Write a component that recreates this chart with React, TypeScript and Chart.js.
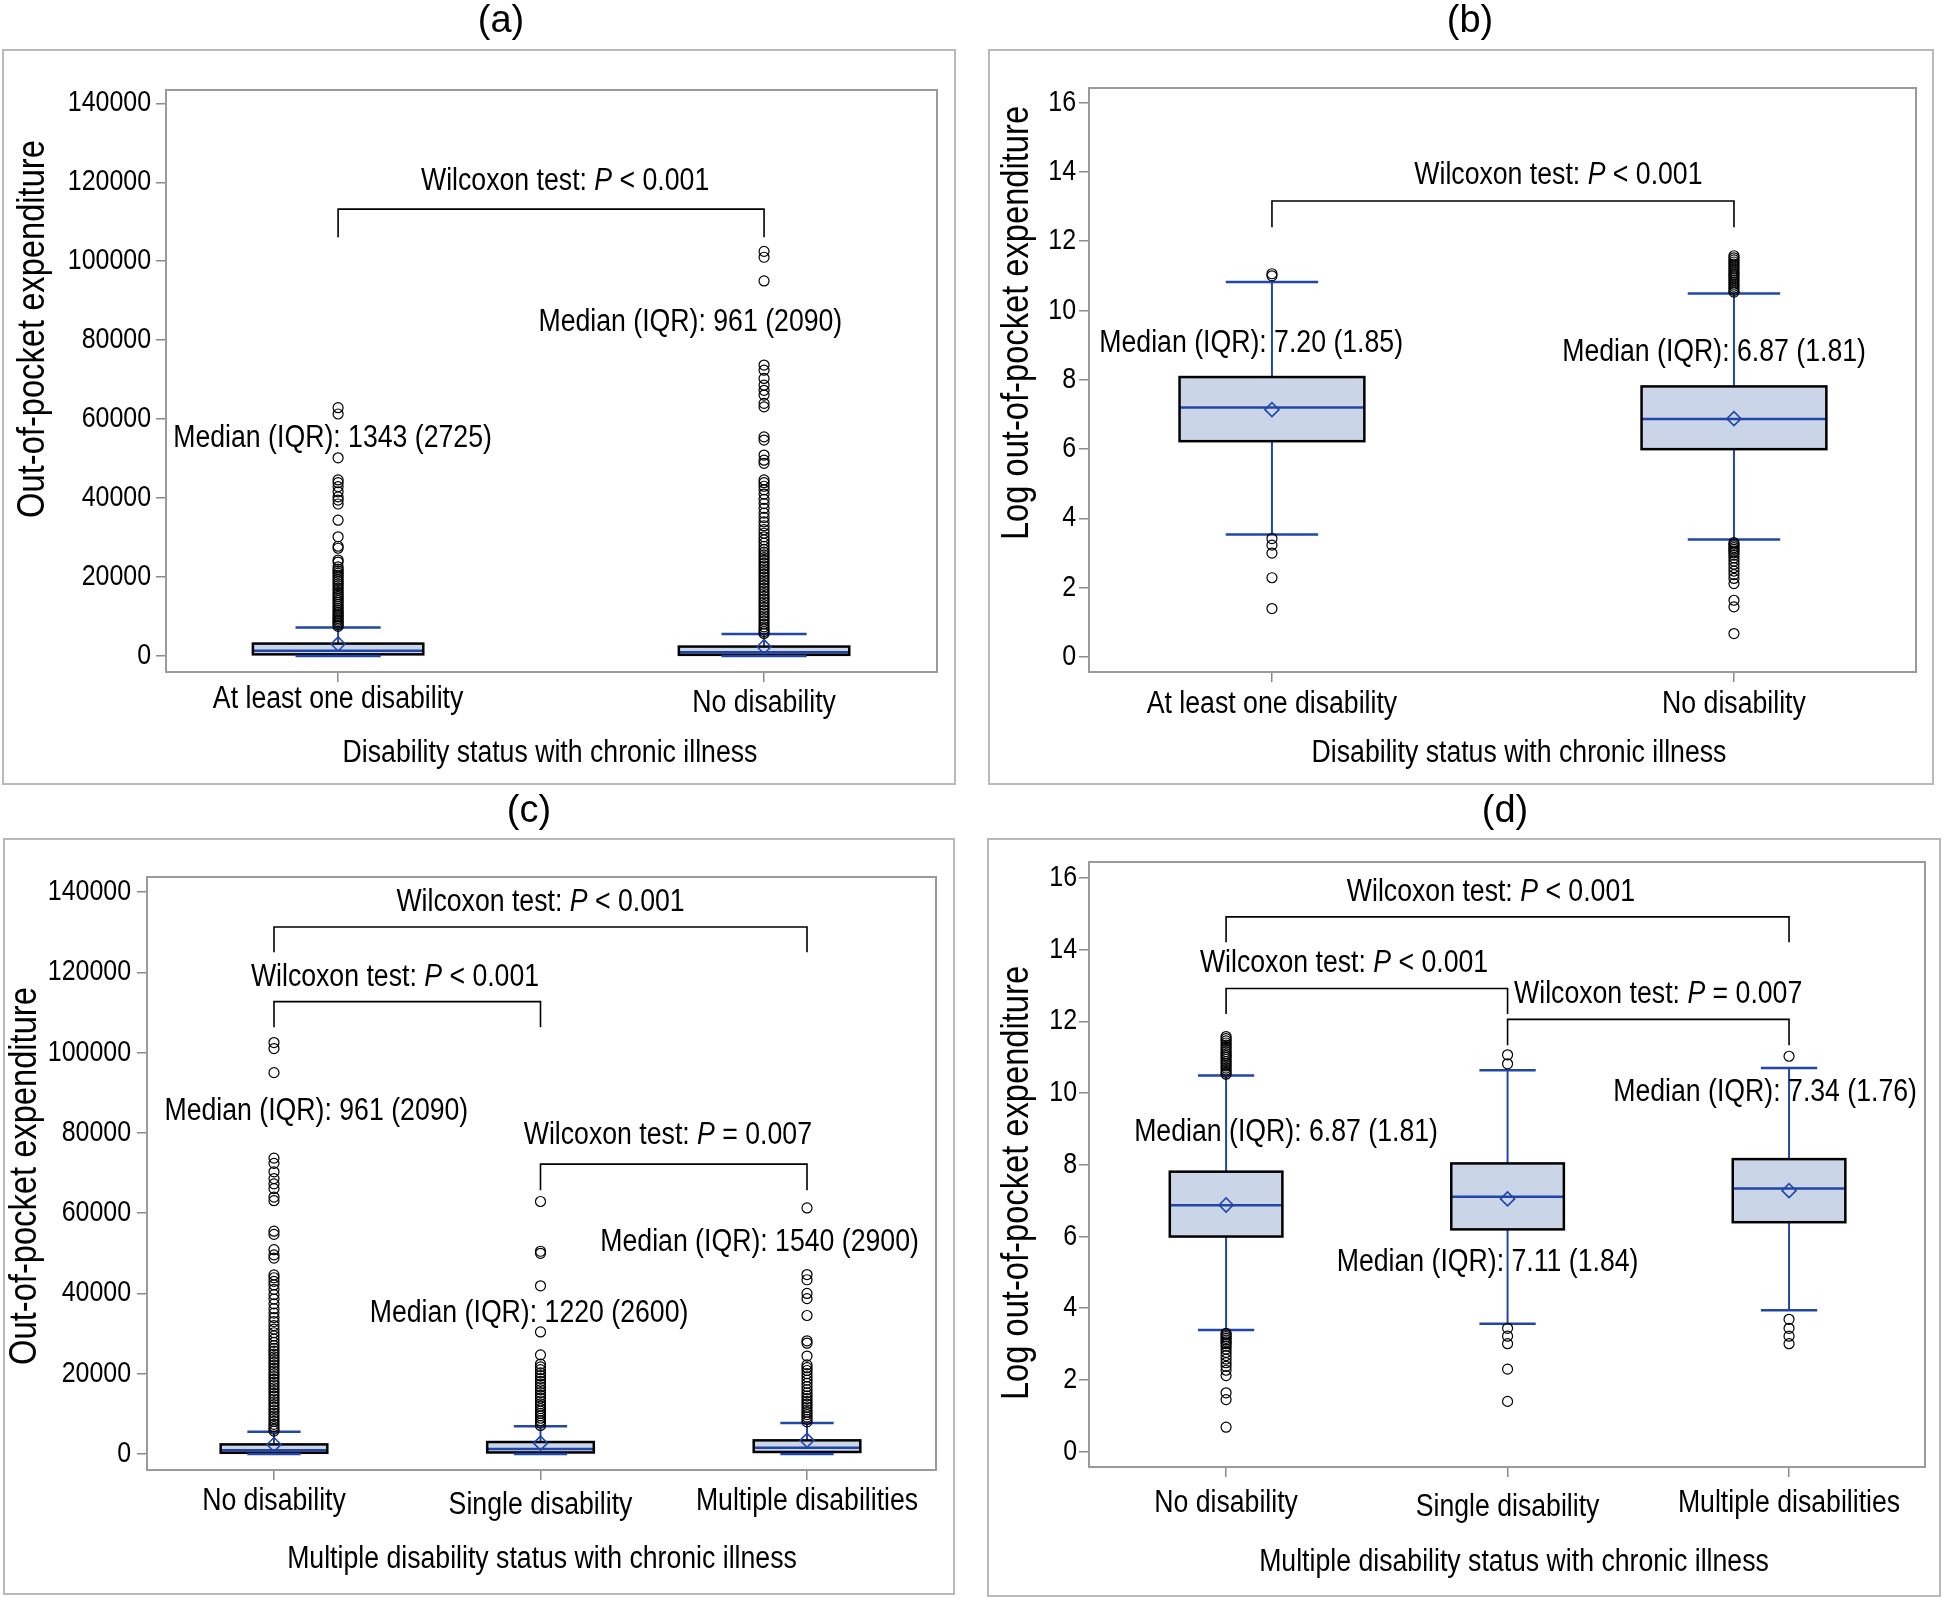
import React, { useEffect, useRef } from 'react';
import { Chart, registerables } from 'chart.js';

Chart.register(...registerables);

// ---------------- categories ----------------
const CATS_TWO = ['At least one disability', 'No disability'];
const CATS_THREE = ['No disability', 'Single disability', 'Multiple disabilities'];

// ---------------- tick values ----------------
const RAW_TICKS = [0, 20000, 40000, 60000, 80000, 100000, 120000, 140000];
const LOG_TICKS = [0, 2, 4, 6, 8, 10, 12, 14, 16];

// ---------------- box statistics: [lower whisker, Q1, median, Q3, upper whisker] ----------------
const RAW_ANY = [10, 420, 1343, 3145, 7200];
const RAW_NONE = [10, 300, 961, 2390, 5550];
const RAW_SINGLE = [10, 380, 1220, 2980, 6900];
const RAW_MULTI = [10, 500, 1540, 3400, 7700];

const LOG_ANY = [3.54, 6.23, 7.2, 8.08, 10.82];
const LOG_NONE = [3.39, 6.0, 6.87, 7.81, 10.49];
const LOG_SINGLE = [3.57, 6.2, 7.11, 8.04, 10.64];
const LOG_MULTI = [3.94, 6.4, 7.34, 8.16, 10.7];

// means: [at least one, none, single, multiple]
const RAW_MEANS = [3050, 2350, 2700, 3400];
const LOG_MEANS = [7.14, 6.88, 7.05, 7.28];

// ---------------- outliers ----------------
const RAW_OUT_ANY = [62900, 61300, 50200, 44600, 43900, 42900, 41600, 40300, 39500, 38500, 34400, 30200, 27800, 27300, 24300, 23800, 22600, 22000, 21500, 21000, 20500, 20000, 19400, 18900, 18300, 17800, 17200, 16700, 16100, 15600, 15100, 14600, 14100, 13600, 13100, 12600, 12100, 11600, 11100, 10700, 10300, 9900, 9500, 9100, 8700, 8300, 7900, 7500];
const RAW_OUT_NONE = [102500, 101000, 95000, 73700, 72400, 70300, 68600, 67300, 66100, 64000, 63100, 55500, 54700, 50900, 49600, 48800, 44600, 43900, 43000, 42100, 41000, 39700, 38600, 37400, 36200, 35100, 34000, 33000, 32000, 31100, 30200, 29400, 28600, 27800, 27000, 26300, 25600, 24900, 24200, 23500, 22800, 22100, 21400, 20700, 20000, 19300, 18600, 17900, 17200, 16500, 15800, 15100, 14400, 13700, 13000, 12300, 11600, 10900, 10200, 9500, 8800, 8100, 7400, 6800, 6200, 5700];
const RAW_OUT_SINGLE = [62900, 50500, 50000, 41900, 30400, 24700, 22400, 21700, 21000, 20200, 19500, 18800, 18100, 17400, 16700, 16000, 15300, 14600, 13900, 13200, 12500, 11900, 11300, 10700, 10100, 9500, 8900, 8300, 7700, 7100];
const RAW_OUT_MULTI = [61300, 44700, 43400, 40000, 38700, 34500, 28200, 27600, 24400, 22200, 21500, 20800, 20000, 19200, 18400, 17600, 16800, 16000, 15200, 14500, 13800, 13100, 12400, 11700, 11000, 10400, 9800, 9200, 8600, 8000];

const LOG_OUT_ANY = [11.06, 11.0, 3.42, 3.23, 3.0, 2.29, 1.4];
const LOG_OUT_NONE = [11.58, 11.52, 11.46, 11.4, 11.34, 11.28, 11.22, 11.16, 11.1, 11.05, 11.0, 10.94, 10.88, 10.82, 10.76, 10.7, 10.64, 10.58, 10.53, 3.3, 3.26, 3.21, 3.16, 3.11, 3.06, 3.01, 2.94, 2.86, 2.77, 2.68, 2.58, 2.48, 2.38, 2.27, 2.12, 1.64, 1.45, 0.68];
const LOG_OUT_SINGLE = [11.07, 10.82, 3.44, 3.22, 3.01, 2.3, 1.4];
const LOG_OUT_MULTI = [11.03, 3.69, 3.44, 3.22, 3.01];

// ---------------- Wilcoxon tests ----------------
const P_TWO = ['< 0.001'];
const P_THREE = ['< 0.001', '< 0.001', '= 0.007'];

// ---------------- styling ----------------
const BLUE = '#2146a8';
const FILL = '#cad6e7';
const FRAME = '#9a9a9a';
const OUTER = '#b9b9b9';
const TICKC = '#8a8a8a';
const BOX_W = 0.4;
const CAP_W = 0.2;
const FAM = '"Liberation Sans", Arial, sans-serif';
const COND = 0.86; // horizontal condensing of the text
const SZ_TICK = 29;
const SZ_CAT = 31;
const SZ_TEXT = 31;
const SZ_XTITLE = 31;
const SZ_YTITLE = 38;
const SZ_TITLE = 38;

const PANELS: any[] = [
  {
    title: '(a)', cats: CATS_TWO, ticks: RAW_TICKS, log: false,
    yTitle: 'Out-of-pocket expenditure', xTitle: 'Disability status with chronic illness',
    stats: [RAW_ANY, RAW_NONE], means: [RAW_MEANS[0], RAW_MEANS[1]], outliers: [RAW_OUT_ANY, RAW_OUT_NONE],
    canvas: { left: 0, top: 0, w: 972, h: 800 },
    frame: { l: 166, r: 937, t: 90, b: 672 },
    border: { l: 3, r: 955, t: 50, b: 784 },
    titlePos: [501, 22], yTitlePos: [34, 329], xTitlePos: [550, 753], xLabelY: [699, 703], yLabelRight: 151,
    xRange: [0.596, 2.406], yRange: [-4050, 143370],
    medianPos: [[0.987, 55200], [1.827, 84600]],
    tests: [{ from: 1, to: 2, p: P_TWO[0], tx: 1.533, ty: 120300, barY: 113200, dropY: 106100 }],
  },
  {
    title: '(b)', cats: CATS_TWO, ticks: LOG_TICKS, log: true,
    yTitle: 'Log out-of-pocket expenditure', xTitle: 'Disability status with chronic illness',
    stats: [LOG_ANY, LOG_NONE], means: [LOG_MEANS[0], LOG_MEANS[1]], outliers: [LOG_OUT_ANY, LOG_OUT_NONE],
    canvas: { left: 972, top: 0, w: 972, h: 800 },
    frame: { l: 117, r: 944, t: 88, b: 672 },
    border: { l: 17, r: 961, t: 50, b: 784 },
    titlePos: [498, 22], yTitlePos: [46, 323], xTitlePos: [547, 753], xLabelY: [704, 704], yLabelRight: 104,
    xRange: [0.604, 2.394], yRange: [-0.43, 16.42],
    medianPos: [[0.955, 9.05], [1.957, 8.79]],
    tests: [{ from: 1, to: 2, p: P_TWO[0], tx: 1.62, ty: 13.89, barY: 13.16, dropY: 12.4 }],
  },
  {
    title: '(c)', cats: CATS_THREE, ticks: RAW_TICKS, log: false,
    yTitle: 'Out-of-pocket expenditure', xTitle: 'Multiple disability status with chronic illness',
    stats: [RAW_NONE, RAW_SINGLE, RAW_MULTI], means: [RAW_MEANS[1], RAW_MEANS[2], RAW_MEANS[3]],
    outliers: [RAW_OUT_NONE, RAW_OUT_SINGLE, RAW_OUT_MULTI],
    canvas: { left: 0, top: 780, w: 972, h: 819 },
    frame: { l: 147, r: 936, t: 97, b: 690 },
    border: { l: 4, r: 954, t: 59, b: 814 },
    titlePos: [529, 32], yTitlePos: [26, 396], xTitlePos: [542, 779], xLabelY: [721, 725, 721], yLabelRight: 131,
    xRange: [0.5235, 3.484], yRange: [-3990, 143740],
    medianPos: [[1.159, 85400], [1.957, 35100], [2.822, 52800]],
    tests: [
      { from: 1, to: 3, p: P_THREE[0], tx: 2.0, ty: 137500, barY: 131300, dropY: 125000 },
      { from: 1, to: 2, p: P_THREE[1], tx: 1.454, ty: 118800, barY: 112700, dropY: 106300 },
      { from: 2, to: 3, p: P_THREE[2], tx: 2.478, ty: 79400, barY: 72200, dropY: 65700 },
    ],
  },
  {
    title: '(d)', cats: CATS_THREE, ticks: LOG_TICKS, log: true,
    yTitle: 'Log out-of-pocket expenditure', xTitle: 'Multiple disability status with chronic illness',
    stats: [LOG_NONE, LOG_SINGLE, LOG_MULTI], means: [LOG_MEANS[1], LOG_MEANS[2], LOG_MEANS[3]],
    outliers: [LOG_OUT_NONE, LOG_OUT_SINGLE, LOG_OUT_MULTI],
    canvas: { left: 972, top: 780, w: 972, h: 819 },
    frame: { l: 117, r: 953, t: 82, b: 687 },
    border: { l: 16, r: 968, t: 59, b: 816 },
    titlePos: [533, 32], yTitlePos: [46, 403], xTitlePos: [542, 782], xLabelY: [723, 727, 723], yLabelRight: 105,
    xRange: [0.513, 3.483], yRange: [-0.43, 16.45],
    medianPos: [[1.213, 8.9], [1.929, 5.28], [2.915, 10.01]],
    tests: [
      { from: 1, to: 3, p: P_THREE[0], tx: 1.941, ty: 15.6, barY: 14.92, dropY: 14.21 },
      { from: 1, to: 2, p: P_THREE[1], tx: 1.419, ty: 13.63, barY: 12.92, dropY: 12.21 },
      { from: 2, to: 3, p: P_THREE[2], tx: 2.535, ty: 12.76, barY: 12.06, dropY: 11.34 },
    ],
  },
];

function fmt(v: number, log: boolean): string {
  return log ? v.toFixed(2) : String(Math.round(v));
}

function line(ctx: CanvasRenderingContext2D, x1: number, y1: number, x2: number, y2: number) {
  ctx.beginPath();
  ctx.moveTo(x1, y1);
  ctx.lineTo(x2, y2);
  ctx.stroke();
}

// condensed text drawing
function text(ctx: CanvasRenderingContext2D, s: string, x: number, y: number, size: number, align: CanvasTextAlign, opts: any = {}) {
  ctx.save();
  ctx.translate(x, y);
  if (opts.rotate) ctx.rotate(-Math.PI / 2);
  ctx.scale(opts.k ?? COND, 1);
  ctx.font = `${opts.italic ? 'italic ' : ''}${size}px ${opts.fam ?? FAM}`;
  ctx.textAlign = align;
  ctx.textBaseline = 'middle';
  ctx.fillStyle = '#000';
  ctx.fillText(s, 0, 0);
  ctx.restore();
}

function measure(ctx: CanvasRenderingContext2D, s: string, size: number, italic = false): number {
  ctx.save();
  ctx.font = `${italic ? 'italic ' : ''}${size}px ${FAM}`;
  const w = ctx.measureText(s).width * COND;
  ctx.restore();
  return w;
}

function makePlugin(p: any) {
  return {
    id: 'panelDecor',
    beforeDraw(chart: any) {
      const ctx = chart.ctx;
      ctx.save();
      ctx.strokeStyle = OUTER;
      ctx.lineWidth = 2;
      ctx.strokeRect(p.border.l, p.border.t, p.border.r - p.border.l, p.border.b - p.border.t);
      ctx.restore();
      text(ctx, p.title, p.titlePos[0], p.titlePos[1], SZ_TITLE, 'center', { k: 1 });
      text(ctx, p.xTitle, p.xTitlePos[0], p.xTitlePos[1], SZ_XTITLE, 'center');
      text(ctx, p.yTitle, p.yTitlePos[0], p.yTitlePos[1], SZ_YTITLE, 'center', { rotate: true });
      // tick labels, placed through the scales
      const xs = chart.scales.x;
      const ys = chart.scales.y;
      ys.ticks.forEach((t: any) => {
        text(ctx, String(t.value), p.yLabelRight, ys.getPixelForValue(t.value), SZ_TICK, 'right');
      });
      xs.ticks.forEach((t: any, i: number) => {
        text(ctx, p.cats[i], xs.getPixelForValue(t.value), p.xLabelY[i], SZ_CAT, 'center');
      });
    },
    beforeDatasetsDraw(chart: any) {
      const ctx = chart.ctx;
      const xs = chart.scales.x;
      const ys = chart.scales.y;
      ctx.save();
      p.stats.forEach((s: number[], i: number) => {
        const cx = xs.getPixelForValue(i + 1);
        const hw = Math.abs(xs.getPixelForValue(i + 1 + BOX_W / 2) - cx);
        const cw = Math.abs(xs.getPixelForValue(i + 1 + CAP_W / 2) - cx);
        const [lo, q1, med, q3, hi] = s.map((v) => ys.getPixelForValue(v));
        ctx.strokeStyle = BLUE;
        ctx.lineWidth = 2;
        line(ctx, cx, lo, cx, q1);
        line(ctx, cx, q3, cx, hi);
        ctx.fillStyle = FILL;
        ctx.fillRect(cx - hw, q3, 2 * hw, q1 - q3);
        ctx.strokeStyle = BLUE;
        ctx.lineWidth = 2.5;
        line(ctx, cx - hw, med, cx + hw, med);
        ctx.strokeStyle = '#000';
        ctx.lineWidth = 2.5;
        ctx.strokeRect(cx - hw, q3, 2 * hw, q1 - q3);
        ctx.strokeStyle = BLUE;
        ctx.lineWidth = 2.5;
        line(ctx, cx - cw, lo, cx + cw, lo);
        line(ctx, cx - cw, hi, cx + cw, hi);
      });
      ctx.restore();
    },
    afterDatasetsDraw(chart: any) {
      const ctx = chart.ctx;
      const xs = chart.scales.x;
      const ys = chart.scales.y;
      const a = chart.chartArea;
      ctx.save();
      ctx.strokeStyle = FRAME;
      ctx.lineWidth = 2;
      ctx.strokeRect(a.left, a.top, a.right - a.left, a.bottom - a.top);
      ctx.strokeStyle = '#000';
      ctx.lineWidth = 1.6;
      p.tests.forEach((t: any) => {
        const x1 = xs.getPixelForValue(t.from);
        const x2 = xs.getPixelForValue(t.to);
        const yb = ys.getPixelForValue(t.barY);
        const yd = ys.getPixelForValue(t.dropY);
        ctx.beginPath();
        ctx.moveTo(x1, yd);
        ctx.lineTo(x1, yb);
        ctx.lineTo(x2, yb);
        ctx.lineTo(x2, yd);
        ctx.stroke();
        const s1 = 'Wilcoxon test: ';
        const s2 = 'P';
        const s3 = ' ' + t.p;
        const w1 = measure(ctx, s1, SZ_TEXT);
        const w2 = measure(ctx, s2, SZ_TEXT, true);
        const w3 = measure(ctx, s3, SZ_TEXT);
        let x = xs.getPixelForValue(t.tx) - (w1 + w2 + w3) / 2;
        const y = ys.getPixelForValue(t.ty);
        text(ctx, s1, x, y, SZ_TEXT, 'left');
        x += w1;
        text(ctx, s2, x, y, SZ_TEXT, 'left', { italic: true });
        x += w2;
        text(ctx, s3, x, y, SZ_TEXT, 'left');
      });
      p.stats.forEach((s: number[], i: number) => {
        const txt = `Median (IQR): ${fmt(s[2], p.log)} (${fmt(s[3] - s[1], p.log)})`;
        const pos = p.medianPos[i];
        text(ctx, txt, xs.getPixelForValue(pos[0]), ys.getPixelForValue(pos[1]), SZ_TEXT, 'center');
      });
      ctx.restore();
    },
  };
}

function buildChart(canvas: HTMLCanvasElement, p: any) {
  const outlierPts: any[] = [];
  p.outliers.forEach((arr: number[], i: number) => arr.forEach((v) => outlierPts.push({ x: i + 1, y: v })));
  const meanPts = p.means.map((m: number, i: number) => ({ x: i + 1, y: m }));
  const xAxisH = 60;
  return new Chart(canvas, {
    type: 'scatter',
    data: {
      datasets: [
        {
          label: 'Mean',
          data: meanPts,
          pointStyle: 'rectRot',
          pointRadius: 7,
          pointHoverRadius: 7,
          pointBorderWidth: 1.6,
          borderColor: BLUE,
          pointBorderColor: BLUE,
          backgroundColor: 'rgba(0,0,0,0)',
          pointBackgroundColor: 'rgba(0,0,0,0)',
        },
        {
          label: 'Outliers',
          data: outlierPts,
          pointStyle: 'circle',
          pointRadius: 5,
          pointHoverRadius: 5,
          pointBorderWidth: 1.2,
          borderColor: '#000',
          pointBorderColor: '#000',
          backgroundColor: 'rgba(0,0,0,0)',
          pointBackgroundColor: 'rgba(0,0,0,0)',
        },
      ],
    },
    options: {
      animation: false,
      responsive: false,
      events: [],
      layout: {
        padding: {
          left: 0,
          top: p.frame.t,
          right: p.canvas.w - p.frame.r,
          bottom: p.canvas.h - p.frame.b - xAxisH,
        },
      },
      plugins: {
        legend: { display: false },
        tooltip: { enabled: false },
        title: { display: false },
      },
      scales: {
        x: {
          type: 'linear',
          min: p.xRange[0],
          max: p.xRange[1],
          afterBuildTicks: (s: any) => {
            s.ticks = p.cats.map((_: string, i: number) => ({ value: i + 1 }));
          },
          afterFit: (s: any) => {
            s.height = xAxisH;
          },
          ticks: { display: false, autoSkip: false },
          grid: { drawOnChartArea: false, drawTicks: true, tickLength: 10, color: TICKC, lineWidth: 1.5 },
          border: { display: false },
        },
        y: {
          type: 'linear',
          min: p.yRange[0],
          max: p.yRange[1],
          afterBuildTicks: (s: any) => {
            s.ticks = p.ticks.map((v: number) => ({ value: v }));
          },
          afterFit: (s: any) => {
            s.width = p.frame.l;
          },
          ticks: { display: false, autoSkip: false },
          grid: { drawOnChartArea: false, drawTicks: true, tickLength: 10, color: TICKC, lineWidth: 1.5 },
          border: { display: false },
        },
      },
    },
    plugins: [makePlugin(p)],
  } as any);
}

export default function App() {
  const refs = useRef<(HTMLCanvasElement | null)[]>([]);
  useEffect(() => {
    const charts = PANELS.map((p, i) => buildChart(refs.current[i] as HTMLCanvasElement, p));
    return () => charts.forEach((c) => c.destroy());
  }, []);
  return (
    <div style={{ position: 'absolute', left: 0, top: 0, width: 1944, height: 1599, background: '#fff', overflow: 'hidden' }}>
      {PANELS.map((p, i) => (
        <canvas
          key={p.title}
          ref={(el) => {
            refs.current[i] = el;
          }}
          width={p.canvas.w}
          height={p.canvas.h}
          style={{ position: 'absolute', left: p.canvas.left, top: p.canvas.top, width: p.canvas.w, height: p.canvas.h }}
        />
      ))}
    </div>
  );
}
